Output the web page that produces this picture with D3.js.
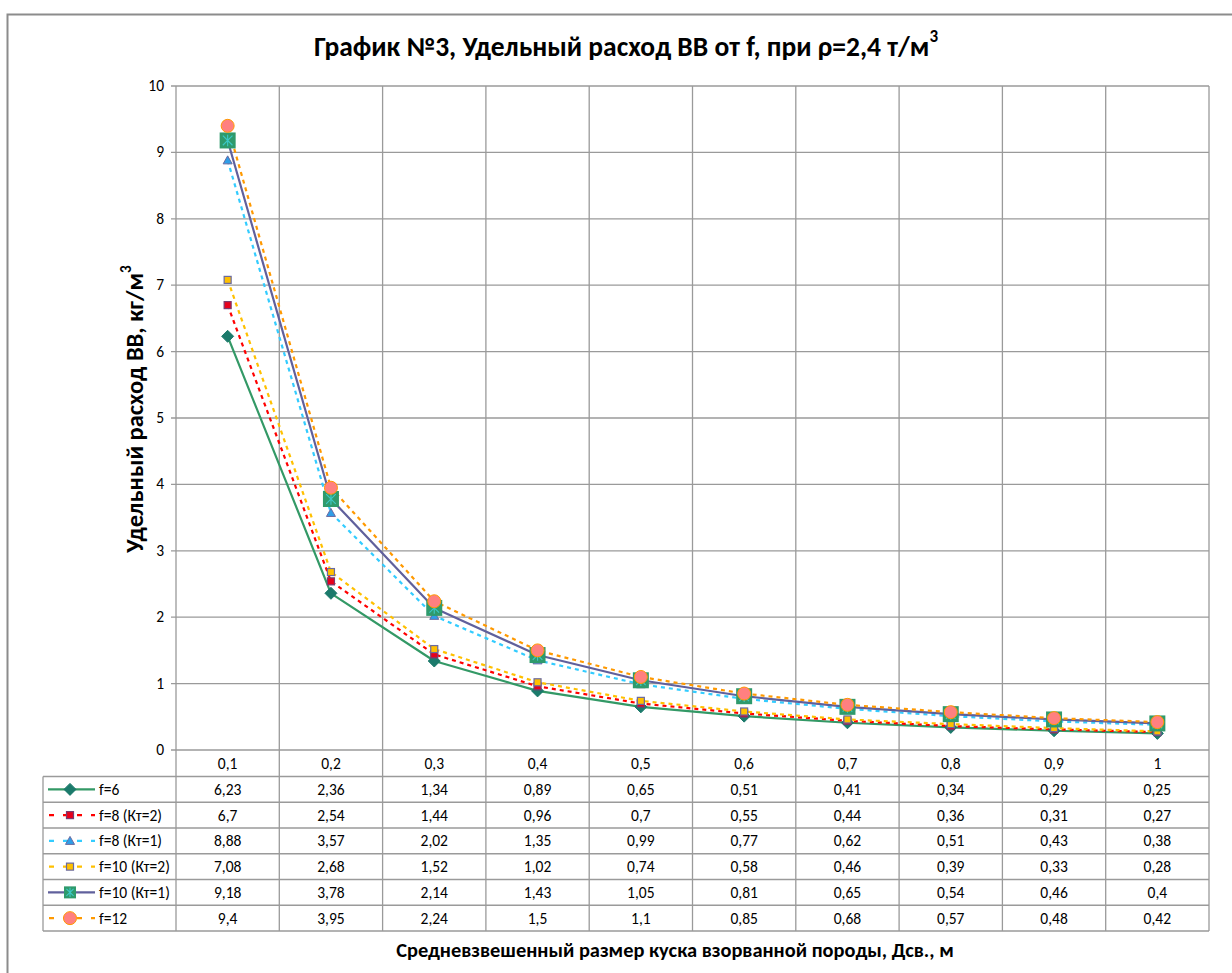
<!DOCTYPE html>
<html><head><meta charset="utf-8">
<script src="https://cdn.jsdelivr.net/npm/d3@7"></script>
<style>
html,body{margin:0;padding:0;background:#fff;}
svg{display:block;font-family:Carlito,Calibri,"Open Sans","Noto Sans",sans-serif;}
</style></head><body>
<svg id="c" width="1232" height="973"></svg>
<script>
const categories = ["0,1","0,2","0,3","0,4","0,5","0,6","0,7","0,8","0,9","1"];
const seriesNames = ["f=6","f=8 (Кт=2)","f=8 (Кт=1)","f=10 (Кт=2)","f=10 (Кт=1)","f=12"];
const f6      = [6.23,2.36,1.34,0.89,0.65,0.51,0.41,0.34,0.29,0.25];
const f8kt2   = [6.7,2.54,1.44,0.96,0.7,0.55,0.44,0.36,0.31,0.27];
const f8kt1   = [8.88,3.57,2.02,1.35,0.99,0.77,0.62,0.51,0.43,0.38];
const f10kt2  = [7.08,2.68,1.52,1.02,0.74,0.58,0.46,0.39,0.33,0.28];
const f10kt1  = [9.18,3.78,2.14,1.43,1.05,0.81,0.65,0.54,0.46,0.4];
const f12     = [9.4,3.95,2.24,1.5,1.1,0.85,0.68,0.57,0.48,0.42];
const yTicks  = [0,1,2,3,4,5,6,7,8,9,10];

const seriesValues = [f6,f8kt2,f8kt1,f10kt2,f10kt1,f12];
const styles = [
  {stroke:"#339966", dash:null, marker:"diamond", fill:"#1b7a6b", mstroke:"#1b7a6b"},
  {stroke:"#ff0000", dash:"4,4", marker:"square", fill:"#e8001c", mstroke:"#7a3a6e"},
  {stroke:"#33ccff", dash:"4,4", marker:"triangle", fill:"#2e9ee8", mstroke:"#6a6aa0"},
  {stroke:"#ffc000", dash:"4,4", marker:"square", fill:"#ffc000", mstroke:"#6a6aa0"},
  {stroke:"#60609c", dash:null, marker:"bigsquare", fill:"#2f9a6c", mstroke:"#2f9a6c"},
  {stroke:"#ff9900", dash:"4,4", marker:"circle", fill:"#ff8080", mstroke:"#ff9900"}
];

const svg = d3.select("#c");
const L = 176, R = 1209, T = 86, B = 750;
const tableLeft = 43, headerH = 26.5, rowH = 25.75;
const x = d3.scaleBand().domain(categories).range([L, R]).padding(0);
const y = d3.scaleLinear().domain([0,10]).range([B, T]);
const gridColor = "#9a9a9a";

// fit a font size so a sample string reaches a measured width
function fitSize(sample, target, weight){
  const t = svg.append("text").attr("font-size",100).attr("font-weight",weight||"normal").text(sample);
  const w = t.node().getComputedTextLength();
  t.remove();
  return 100*target/w;
}
const numSize = Math.min(17, Math.max(13, fitSize("6,23", 27.5)));

// outer border
svg.append("path").attr("d", `M7.5,1300 V14.5 H1500`).attr("fill","none").attr("stroke","#8c8c8c").attr("stroke-width",2);

// title
const title = svg.append("text").attr("x",626).attr("y",56).attr("text-anchor","middle")
  .attr("font-weight","bold").attr("font-size",27.5).attr("fill","#000");
title.append("tspan").text("График №3, Удельный расход ВВ от f, при ρ=2,4 т/м");
title.append("tspan").attr("font-size",17).attr("dy",-14).text("3");

// horizontal gridlines
svg.append("g").selectAll("line").data(yTicks).join("line")
  .attr("x1", L-5).attr("x2", R).attr("y1", d=>y(d)).attr("y2", d=>y(d))
  .attr("stroke", gridColor).attr("stroke-width",1.3);
// vertical gridlines (category boundaries), extend into table
const bounds = categories.map(c=>x(c)).concat([R]);
svg.append("g").selectAll("line").data(bounds).join("line")
  .attr("x1", d=>d).attr("x2", d=>d).attr("y1", T).attr("y2", B + headerH + rowH*6)
  .attr("stroke", gridColor).attr("stroke-width",1.3);

// y tick labels
svg.append("g").selectAll("text").data(yTicks).join("text")
  .attr("x", L-12).attr("y", d=>y(d)+5).attr("text-anchor","end")
  .attr("font-size",numSize).attr("fill","#000").text(d=>d);

// y axis title
const yt = svg.append("text").attr("transform","translate(143,409) rotate(-90)")
  .attr("text-anchor","middle").attr("font-weight","bold").attr("font-size",24.5).attr("fill","#000");
yt.append("tspan").text("Удельный расход ВВ, кг/м");
yt.append("tspan").attr("font-size",15).attr("dy",-12).text("3");

// table lines
const tableBottom = B + headerH + rowH*6;
const rowTops = d3.range(7).map(i => B + headerH + rowH*i);
svg.append("g").selectAll("line").data(rowTops).join("line")
  .attr("x1", tableLeft).attr("x2", R).attr("y1", d=>d).attr("y2", d=>d)
  .attr("stroke", gridColor).attr("stroke-width",1.3);
svg.append("line").attr("x1",tableLeft).attr("x2",tableLeft).attr("y1",B+headerH).attr("y2",tableBottom)
  .attr("stroke", gridColor).attr("stroke-width",1.3);

// header labels
svg.append("g").selectAll("text").data(categories).join("text")
  .attr("x", d=>x(d)+x.bandwidth()/2).attr("y", B + 19).attr("text-anchor","middle")
  .attr("font-size",numSize).attr("fill","#000").text(d=>d);

// marker drawing
function drawMarker(g, type, st, legend){
  if(type==="diamond"){
    g.append("path").attr("d","M0,-6 L6,0 L0,6 L-6,0Z").attr("fill",st.fill).attr("stroke",st.mstroke);
  } else if(type==="square"){
    g.append("rect").attr("x",-3.5).attr("y",-3.5).attr("width",7).attr("height",7)
      .attr("fill",st.fill).attr("stroke",st.mstroke).attr("stroke-width",1.2);
  } else if(type==="triangle"){
    g.append("path").attr("d","M0,-4.5 L4.5,3.5 L-4.5,3.5Z").attr("fill",st.fill).attr("stroke",st.mstroke).attr("stroke-width",1);
  } else if(type==="bigsquare"){
    const s = legend ? 6 : 8;
    g.append("rect").attr("x",-s).attr("y",-s).attr("width",2*s).attr("height",2*s).attr("fill",st.fill);
    const k = s*0.6;
    g.append("path").attr("d",`M${-k},${-k} L${k},${k} M${-k},${k} L${k},${-k} M0,${-k-1} V${k+1}`)
      .attr("stroke","#3cc8c8").attr("stroke-width",1.1);
  } else if(type==="circle"){
    g.append("circle").attr("r",6.5).attr("fill",st.fill).attr("stroke",st.mstroke).attr("stroke-width",1);
  }
}

// series lines + markers
const line = d3.line().x((d,i)=>x(categories[i])+x.bandwidth()/2).y(d=>y(d));
seriesValues.forEach((vals, si) => {
  const st = styles[si];
  svg.append("path").attr("d", line(vals)).attr("fill","none").attr("stroke",st.stroke)
    .attr("stroke-width",2.2).attr("stroke-dasharray",st.dash).attr("stroke-linejoin","round");
});
seriesValues.forEach((vals, si) => {
  const st = styles[si];
  const g = svg.append("g");
  vals.forEach((v,i)=>{
    const mg = g.append("g").attr("transform",`translate(${x(categories[i])+x.bandwidth()/2},${y(v)})`);
    drawMarker(mg, st.marker, st, false);
  });
});

// table rows: legend + values
seriesValues.forEach((vals, si) => {
  const st = styles[si];
  const cy = B + headerH + rowH*si + rowH/2;
  svg.append("line").attr("x1",48).attr("x2",95).attr("y1",cy).attr("y2",cy)
    .attr("stroke",st.stroke).attr("stroke-width",2.2)
    .attr("stroke-dasharray", st.dash ? "5,9" : null).attr("stroke-dashoffset", st.dash ? -1 : 0);
  const mg = svg.append("g").attr("transform",`translate(70,${cy})`);
  drawMarker(mg, st.marker, st, true);
  svg.append("text").attr("x",99).attr("y",cy+5.5).attr("font-size",numSize).attr("fill","#000").text(seriesNames[si]);
  svg.append("g").selectAll("text").data(vals).join("text")
    .attr("x",(d,i)=>x(categories[i])+x.bandwidth()/2).attr("y",cy+5.5).attr("text-anchor","middle")
    .attr("font-size",numSize).attr("fill","#000").text(d=>String(d).replace(".",","));
});

// x axis title
svg.append("text").attr("x",675).attr("y",957).attr("text-anchor","middle")
  .attr("font-weight","bold").attr("font-size",20.4).attr("fill","#000")
  .text("Средневзвешенный размер куска взорванной породы, Дсв., м");
</script>
</body></html>
